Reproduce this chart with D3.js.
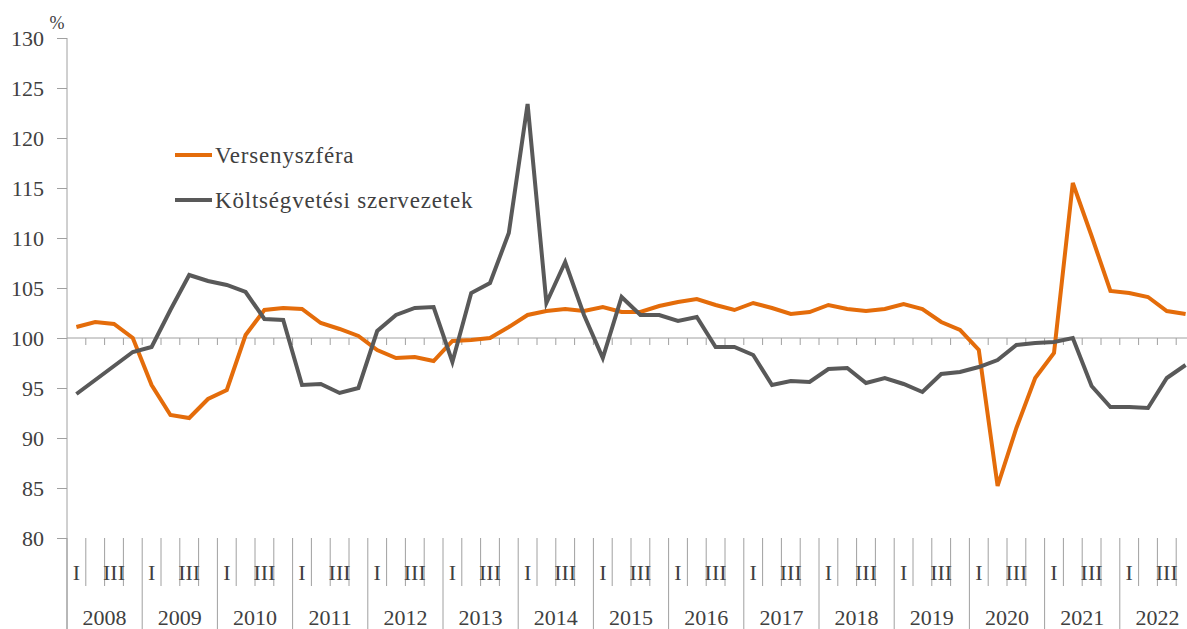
<!DOCTYPE html>
<html>
  <head>
    <meta charset="utf-8">
    <script src="https://d3js.org/d3.v7.min.js"></script>
    <title>Versenyszféra és költségvetési szervezetek</title>
    <style>
      body {
        margin: 0px;
        background: #ffffff;
      }
      text {
        font-family: 'Liberation Serif', serif;
        fill: #404040;
      }
      .tick text {
        font-size: 22px;
      }
      .axis line, .axis path {
        stroke: #a0a0a0;
      }
      .legend-label {
        font-size: 23px;
        letter-spacing: 0.8px;
      }
    </style>
  </head>
  <body>
    <script>
      const years = ['2008', '2009', '2010', '2011', '2012', '2013', '2014', '2015',
                     '2016', '2017', '2018', '2019', '2020', '2021', '2022'];
      const quarterLabels = ['I', '', 'III', ''];
      const yTicks = [80, 85, 90, 95, 100, 105, 110, 115, 120, 125, 130];

      const versenyszfera = [
        101.1, 101.6, 101.4, 100.0,
        95.3, 92.3, 92.0, 93.9,
        94.8, 100.3, 102.8, 103.0,
        102.9, 101.5, 100.9, 100.2,
        98.8, 98.0, 98.1, 97.7,
        99.7, 99.8, 100.0, 101.1,
        102.3, 102.7, 102.9, 102.7,
        103.1, 102.6, 102.6, 103.2,
        103.6, 103.9, 103.3, 102.8,
        103.5, 103.0, 102.4, 102.6,
        103.3, 102.9, 102.7, 102.9,
        103.4, 102.9, 101.6, 100.8,
        98.8, 85.2, 91.0, 96.0,
        98.5, 115.5, 110.2, 104.7,
        104.5, 104.1, 102.7, 102.4
      ];
      const koltsegvetesi = [
        94.4, 95.8, 97.2, 98.6,
        99.1, 102.8, 106.3, 105.7,
        105.3, 104.6, 101.9, 101.8,
        95.3, 95.4, 94.5, 95.0,
        100.7, 102.3, 103.0, 103.1,
        97.6, 104.5, 105.5, 110.5,
        123.4, 103.5, 107.6, 102.3,
        98.0, 104.1, 102.3, 102.3,
        101.7, 102.1, 99.1, 99.1,
        98.3, 95.3, 95.7, 95.6,
        96.9, 97.0, 95.5, 96.0,
        95.4, 94.6, 96.4, 96.6,
        97.1, 97.8, 99.3, 99.5,
        99.6, 100.0, 95.2, 93.1,
        93.1, 93.0, 96.0, 97.3
      ];

      const seriesNames = ['Versenyszféra', 'Költségvetési szervezetek'];
      const colors = ['#e46c0a', '#595959'];

      const width = 1187, height = 629;
      const margin = { left: 67, right: 1195, top: 38, bottom: 538 };

      const svg = d3.select('body').append('svg')
        .attr('width', width)
        .attr('height', height);

      const quarters = [];
      years.forEach(yr => quarterLabels.forEach((q, i) => quarters.push(yr + '-' + i)));

      const x = d3.scaleBand().domain(quarters).range([margin.left, margin.right]).padding(0);
      const xYear = d3.scaleBand().domain(years).range([margin.left, margin.right]).padding(0);
      const y = d3.scaleLinear().domain([80, 130]).range([margin.bottom, margin.top]);
      const bw = x.bandwidth();

      // y axis
      const yAxis = d3.axisLeft(y).tickValues(yTicks).tickSize(10).tickPadding(13);
      const yAxisG = svg.append('g')
        .attr('class', 'axis')
        .attr('transform', `translate(${margin.left},0)`)
        .call(yAxis);
      yAxisG.select('.domain').remove();

      svg.append('line')
        .attr('x1', margin.left).attr('x2', margin.left)
        .attr('y1', margin.top).attr('y2', height)
        .attr('stroke', '#a0a0a0');

      svg.append('text')
        .attr('x', 57)
        .attr('y', 23)
        .attr('dy', '0.35em')
        .attr('text-anchor', 'middle')
        .style('font-size', '18px')
        .text('%');

      // 100-as vonal negyedéves jelölőkkel
      const xAxis100 = d3.axisBottom(x)
        .tickValues(quarters.slice(1))
        .tickSize(7)
        .tickFormat('');
      const axis100G = svg.append('g')
        .attr('class', 'axis')
        .attr('transform', `translate(${-bw / 2},${y(100)})`)
        .call(xAxis100);
      axis100G.select('.domain').remove();
      svg.append('line')
        .attr('x1', margin.left).attr('x2', width)
        .attr('y1', y(100)).attr('y2', y(100))
        .attr('stroke', '#a0a0a0');

      // kategória tengely
      const catG = svg.append('g');
      catG.selectAll('.qline')
        .data(quarters.filter((q, i) => i % 4 !== 0))
        .enter().append('line')
          .attr('x1', d => x(d)).attr('x2', d => x(d))
          .attr('y1', margin.bottom).attr('y2', 586)
          .attr('stroke', '#a0a0a0');
      catG.selectAll('.yline')
        .data(years)
        .enter().append('line')
          .attr('x1', d => xYear(d)).attr('x2', d => xYear(d))
          .attr('y1', margin.bottom).attr('y2', height)
          .attr('stroke', '#a0a0a0');
      catG.selectAll('.qlabel')
        .data(quarters.filter((q, i) => quarterLabels[i % 4] !== ''))
        .enter().append('text')
          .attr('x', d => x(d) + bw / 2)
          .attr('y', 572)
          .attr('dy', '0.35em')
          .attr('text-anchor', 'middle')
          .style('font-size', '22px')
          .text(d => quarterLabels[+d.split('-')[1]]);
      catG.selectAll('.ylabel')
        .data(years)
        .enter().append('text')
          .attr('x', d => xYear(d) + xYear.bandwidth() / 2)
          .attr('y', 617)
          .attr('dy', '0.35em')
          .attr('text-anchor', 'middle')
          .style('font-size', '22px')
          .text(d => d);

      // vonalak
      const line = d3.line()
        .x((d, i) => x(quarters[i]) + bw / 2)
        .y(d => y(d));

      [versenyszfera, koltsegvetesi].forEach((s, k) => {
        svg.append('path')
          .datum(s)
          .attr('fill', 'none')
          .attr('stroke', colors[k])
          .attr('stroke-width', 4)
          .attr('stroke-linejoin', 'miter')
          .attr('d', line);
      });

      // jelmagyarázat
      const legend = svg.append('g');
      seriesNames.forEach((name, k) => {
        const ly = 155 + k * 45;
        legend.append('line')
          .attr('x1', 175).attr('x2', 212)
          .attr('y1', ly).attr('y2', ly)
          .attr('stroke', colors[k])
          .attr('stroke-width', 4);
        legend.append('text')
          .attr('class', 'legend-label')
          .attr('x', 215)
          .attr('y', ly)
          .attr('dy', '0.33em')
          .text(name);
      });
    </script>
  </body>
</html>
